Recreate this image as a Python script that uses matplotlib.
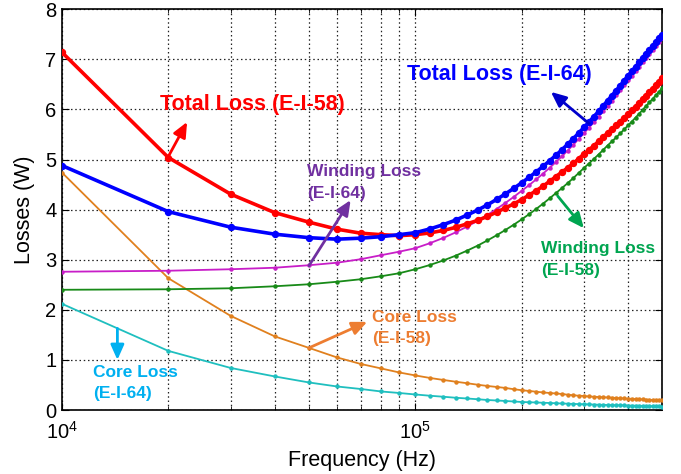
import matplotlib
matplotlib.use("Agg")
import matplotlib.pyplot as plt

plt.rcParams['font.family'] = ['Liberation Sans', 'DejaVu Sans']
plt.rcParams['mathtext.fontset'] = 'custom'
plt.rcParams['mathtext.rm'] = 'Liberation Sans'

# Frequency (kHz)
freq_khz = [10, 20, 30, 40, 50, 60, 70, 80, 90,
            100, 110, 120, 130, 140, 150, 160, 170, 180, 190,
            200, 210, 220, 230, 240, 250, 260, 270, 280, 290,
            300, 310, 320, 330, 340, 350, 360, 370, 380, 390,
            400, 410, 420, 430, 440, 450, 460, 470, 480, 490,
            500]

total_58 = [7.14, 5.04, 4.31, 3.94, 3.75, 3.61, 3.53, 3.50, 3.48,
            3.50, 3.535, 3.585, 3.645, 3.715, 3.785, 3.865, 3.95, 4.035, 4.115,
            4.20, 4.29, 4.38, 4.47, 4.565, 4.66, 4.75, 4.835, 4.925, 5.015,
            5.11, 5.19, 5.275, 5.36, 5.445, 5.53, 5.605, 5.68, 5.755, 5.83,
            5.907, 5.981, 6.055, 6.129, 6.203, 6.277, 6.345, 6.413, 6.482, 6.551,
            6.62]

total_64 = [4.88, 3.96, 3.65, 3.51, 3.44, 3.41, 3.43, 3.46, 3.50,
            3.54, 3.615, 3.70, 3.79, 3.89, 3.99, 4.095, 4.205, 4.315, 4.425,
            4.535, 4.645, 4.755, 4.865, 4.975, 5.085, 5.195, 5.306, 5.417, 5.528,
            5.64, 5.747, 5.854, 5.961, 6.068, 6.175, 6.275, 6.375, 6.475, 6.575,
            6.675, 6.763, 6.851, 6.939, 7.027, 7.115, 7.191, 7.267, 7.343, 7.419,
            7.495]

winding_64 = [2.76, 2.78, 2.81, 2.84, 2.89, 2.94, 3.01, 3.09, 3.16,
              3.23, 3.33, 3.435, 3.545, 3.66, 3.775, 3.895, 4.015, 4.135, 4.255,
              4.375, 4.49, 4.605, 4.72, 4.835, 4.95, 5.065, 5.18, 5.295, 5.41,
              5.525, 5.635, 5.745, 5.855, 5.965, 6.075, 6.177, 6.279, 6.381, 6.483,
              6.585, 6.675, 6.765, 6.855, 6.945, 7.035, 7.113, 7.191, 7.269, 7.347,
              7.425]

winding_58 = [2.40, 2.41, 2.43, 2.47, 2.51, 2.56, 2.61, 2.67, 2.73,
              2.81, 2.895, 2.985, 3.08, 3.18, 3.28, 3.385, 3.49, 3.595, 3.70,
              3.805, 3.91, 4.015, 4.12, 4.225, 4.33, 4.43, 4.53, 4.63, 4.73,
              4.83, 4.92, 5.01, 5.10, 5.19, 5.28, 5.36, 5.44, 5.52, 5.60,
              5.68, 5.758, 5.836, 5.914, 5.992, 6.07, 6.142, 6.214, 6.286, 6.358,
              6.43]

core_58 = [4.74, 2.63, 1.88, 1.47, 1.24, 1.05, 0.92, 0.83, 0.75,
           0.69, 0.64, 0.60, 0.565, 0.535, 0.505, 0.48, 0.46, 0.44, 0.415,
           0.395, 0.38, 0.365, 0.35, 0.34, 0.33, 0.32, 0.305, 0.295, 0.285,
           0.28, 0.27, 0.265, 0.26, 0.255, 0.25, 0.245, 0.24, 0.235, 0.23,
           0.227, 0.223, 0.219, 0.215, 0.211, 0.207, 0.203, 0.199, 0.196, 0.193,
           0.19]

core_64 = [2.12, 1.18, 0.84, 0.67, 0.55, 0.47, 0.42, 0.37, 0.34,
           0.31, 0.285, 0.265, 0.245, 0.23, 0.215, 0.20, 0.19, 0.18, 0.17,
           0.16, 0.155, 0.15, 0.145, 0.14, 0.135, 0.13, 0.126, 0.122, 0.118,
           0.115, 0.112, 0.109, 0.106, 0.103, 0.10, 0.098, 0.096, 0.094, 0.092,
           0.09, 0.088, 0.086, 0.084, 0.082, 0.08, 0.078, 0.076, 0.074, 0.072,
           0.07]

freq = [k * 1000 for k in freq_khz]

fig = plt.figure(figsize=(6.81, 4.74), dpi=100)
ax = fig.add_axes([0.091, 0.135, 0.8815, 0.8455])

thin = dict(lw=1.3, marker='o', ms=2.2)
ax.plot(freq, core_64, color='#1fbfbf', **thin, zorder=3)
ax.plot(freq, core_58, color='#e0801e', **thin, zorder=3)
ax.plot(freq, winding_58, color='#188a18', **thin, zorder=3)
ax.plot(freq, winding_64, color='#c81ec8', **thin, zorder=3)
ax.plot(freq, total_58, color='#ff0000', lw=2.6, marker='o', ms=4.3, zorder=4)
ax.plot(freq, total_64, color='#0000ff', lw=2.6, marker='o', ms=4.3, zorder=5)

ax.set_xscale('log')
ax.set_xlim(1e4, 5e5)
ax.set_ylim(0, 8)
ax.set_yticks(range(0, 9))
ax.set_xticks([1e4, 1e5])
ax.set_xticklabels([r'$\mathregular{10^4}$', r'$\mathregular{10^5}$'])

ax.grid(True, which='both', axis='x', linestyle=(0, (1.2, 2.2)), color='#222222', lw=0.9)
ax.grid(True, which='major', axis='y', linestyle=(0, (1.2, 2.2)), color='#222222', lw=0.9)
ax.tick_params(which='both', direction='in', top=True, right=True)
ax.tick_params(which='major', length=5, labelsize=14.5)
ax.tick_params(axis='y', which='major', pad=4)
ax.tick_params(axis='x', which='major', pad=8)
ax.tick_params(which='minor', length=3)
ax.tick_params(axis='x', which='minor', labelbottom=False)
for s in ax.spines.values():
    s.set_linewidth(1.2)

ax.set_xlabel('Frequency (Hz)', fontsize=15.5, labelpad=5)
ax.set_ylabel('Losses (W)', fontsize=15.5, labelpad=7)

def note(lines, x, ys, color, size):
    for t, y in zip(lines, ys):
        ax.text(x, y, t, color=color, fontsize=size, fontweight='bold',
                ha='left', va='center', zorder=6)

def arrow(tail, tip, color):
    ax.annotate('', xy=tip, xytext=tail,
                arrowprops=dict(arrowstyle='-|>,head_length=0.9,head_width=0.4',
                                color=color, lw=2.0, shrinkA=0, shrinkB=0),
                zorder=6)

note(['Total Loss (E-I-58)'], 1.9e4, [6.1], '#ff0000', 15.5)
arrow((2.0e4, 5.06), (2.26e4, 5.75), '#ff0000')

note(['Total Loss (E-I-64)'], 9.5e4, [6.7], '#0000ff', 15.5)
arrow((3.1e5, 5.72), (2.42e5, 6.35), '#0000cc')

note(['Winding Loss', '(E-I-64)'], 4.95e4, [4.76, 4.33], '#7030a0', 12.5)
arrow((5.0e4, 2.88), (6.56e4, 4.19), '#7030a0')

note(['Winding Loss', '(E-I-58)'], 2.27e5, [3.23, 2.79], '#00a550', 12.5)
arrow((2.53e5, 4.27), (3.0e5, 3.63), '#00a550')

note(['Core Loss', '(E-I-58)'], 7.55e4, [1.85, 1.42], '#ed7d31', 12.5)
arrow((5.0e4, 1.24), (7.31e4, 1.76), '#ed7d31')

note(['Core Loss', '(E-I-64)'], 1.224e4, [0.745, 0.32], '#00b0f0', 12.5)
arrow((1.435e4, 1.63), (1.435e4, 1.0), '#00b0f0')

fig.savefig('out.png', dpi=100)
